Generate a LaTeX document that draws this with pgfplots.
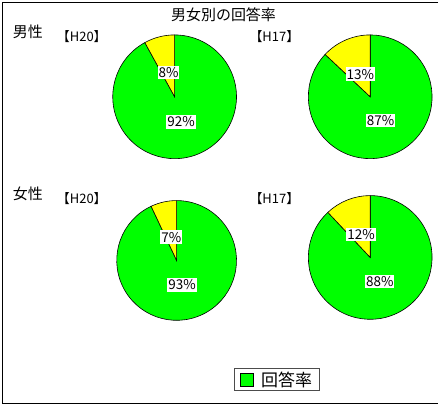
\documentclass[border=0pt]{standalone}
\usepackage{pgfplots}
\usepackage{pgfplotstable}
\pgfplotsset{compat=1.18}
\usepackage{fontspec}
\setmainfont{Noto Sans CJK JP}
\newfontfamily\jpprop{Noto Sans CJK JP}[CharacterWidth=Proportional]

\definecolor{pieG}{RGB}{0,255,0}
\definecolor{pieY}{RGB}{255,255,0}

% one row per pie: centre and radius in px, share answered / not answered
\pgfplotstableread{
cx   cy   rad  ans  noans
175  309  62   92   8
371  309  62   87   13
177  145  60   93   7
371  148  62   88   12
}\pies

\tikzset{lbl/.style={fill=white, inner xsep=1bp, inner ysep=1.5bp,
    font=\fontsize{13.5bp}{15bp}\selectfont}}

% #1 cx, #2 cy, #3 radius, #4 answered, #5 not answered
\newcommand\drawpie[5]{%
  \pgfmathsetmacro\aend{90+3.6*#5}%
  \pgfmathsetmacro\msmall{90+1.8*#5}%
  \pgfmathsetmacro\mbig{(\aend+450)/2}%
  \edef\temp{%
    \noexpand\filldraw[fill=pieG, draw=black, line width=0.6bp]
      (axis cs:#1,#2) -- ++(\aend:#3bp) arc[start angle=\aend, end angle=450, radius=#3bp] -- cycle;
    \noexpand\filldraw[fill=pieY, draw=black, line width=0.6bp]
      (axis cs:#1,#2) -- ++(90:#3bp) arc[start angle=90, end angle=\aend, radius=#3bp] -- cycle;
    \noexpand\path (axis cs:#1,#2) ++(\msmall:0.4*#3bp) node[lbl] {#5\%};
    \noexpand\path (axis cs:#1,#2) ++(\mbig:0.42*#3bp) node[lbl] {#4\%};
  }\temp}

\begin{document}
\begin{tikzpicture}
\begin{axis}[
    width=439bp, height=406bp, scale only axis,
    xmin=0, xmax=439, ymin=0, ymax=406,
    hide axis, clip=false,
    legend style={at={(0.632,0.0628)}, anchor=center,
        draw=black!70, line width=0.8bp,
        font=\fontsize{17bp}{20bp}\selectfont,
        inner xsep=5bp, inner ysep=1bp},
    legend image code/.code={\draw[#1] (0bp,-6.5bp) rectangle (13bp,6.5bp);
        \path (19bp,0bp);},
]
\path (axis cs:0,0) rectangle (axis cs:439,406);

\pgfplotsinvokeforeach{0,...,3}{
  \pgfplotstablegetelem{#1}{cx}\of\pies \let\pcx\pgfplotsretval
  \pgfplotstablegetelem{#1}{cy}\of\pies \let\pcy\pgfplotsretval
  \pgfplotstablegetelem{#1}{rad}\of\pies \let\prad\pgfplotsretval
  \pgfplotstablegetelem{#1}{ans}\of\pies \let\pans\pgfplotsretval
  \pgfplotstablegetelem{#1}{noans}\of\pies \let\pno\pgfplotsretval
  \edef\call{\noexpand\drawpie{\pcx}{\pcy}{\prad}{\pans}{\pno}}\call
}

\addlegendimage{fill=pieG, draw=black, line width=0.6bp}
\addlegendentry{回答率}

% frame
\draw[line width=1bp] (axis cs:439,403.3) -- (axis cs:2.5,403.3)
    -- (axis cs:2.5,1.7) -- (axis cs:439,1.7);

% texts
\node[font=\fontsize{15bp}{17bp}\selectfont] at (axis cs:224,391.5) {男女別の回答率};
\node[font=\fontsize{15bp}{17bp}\selectfont] at (axis cs:28,374.5) {男性};
\node[font=\fontsize{15bp}{17bp}\selectfont] at (axis cs:28,212) {女性};
\node[font=\jpprop\fontsize{13bp}{15bp}\selectfont] at (axis cs:82,369.5) {【H20】};
\node[font=\jpprop\fontsize{13bp}{15bp}\selectfont] at (axis cs:275,369.5) {【H17】};
\node[font=\jpprop\fontsize{13bp}{15bp}\selectfont] at (axis cs:82,207) {【H20】};
\node[font=\jpprop\fontsize{13bp}{15bp}\selectfont] at (axis cs:275,207) {【H17】};
\end{axis}
\end{tikzpicture}
\end{document}
